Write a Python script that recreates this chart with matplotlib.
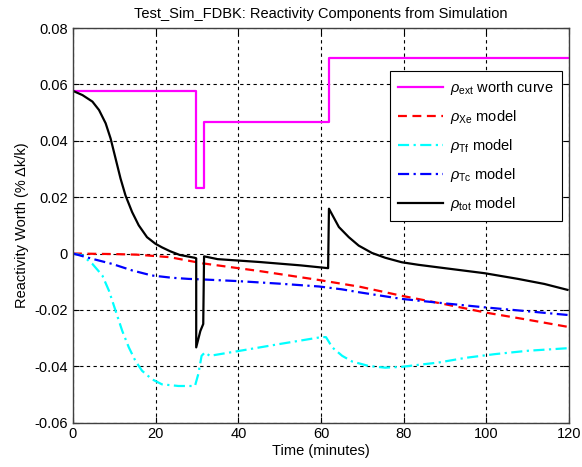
import matplotlib
matplotlib.use('Agg')
import matplotlib.pyplot as plt
import numpy as np

plt.rcParams['font.family'] = ['Liberation Sans', 'DejaVu Sans']
plt.rcParams['mathtext.fontset'] = 'custom'
plt.rcParams['mathtext.rm'] = 'Liberation Sans'
plt.rcParams['mathtext.it'] = 'Liberation Sans:italic'

# external reactivity (worth curve), step shaped
t_ext = [0, 29.7, 29.7, 31.6, 31.6, 61.9, 61.9, 120]
rho_ext = [0.0577, 0.0577, 0.0234, 0.0234, 0.0465, 0.0465, 0.0695, 0.0695]

# xenon
t_xe = [0, 10, 15.4, 23.4, 31.4, 45, 59.5, 69.4, 79.5, 90, 99.6, 110, 119.6]
rho_xe = [0, -0.0002, -0.0004, -0.0013, -0.0035, -0.0062, -0.0094, -0.0118,
          -0.0150, -0.0180, -0.0209, -0.0235, -0.0260]

# fuel temperature
t_tf = [0, 2.3, 4.7, 7.1, 8.7, 10.3, 11.9, 13.5, 15.1, 16.7, 19.1, 21.5,
        25.5, 29.5, 30.3, 31.1, 31.9, 33.1, 40, 50, 60.3, 61.2, 62.7, 65.1,
        67.5, 71.5, 75.5, 79.5, 83.5, 88.3, 95, 102, 110, 119.6]
rho_tf = [0, -0.0007, -0.0037, -0.0078, -0.0132, -0.0203, -0.0274, -0.0333,
          -0.0381, -0.0416, -0.0446, -0.0464, -0.0470, -0.0470, -0.0428,
          -0.0363, -0.0351, -0.0363, -0.0346, -0.0321, -0.0296, -0.0297,
          -0.0333, -0.0363, -0.0383, -0.0399, -0.0405, -0.0402, -0.0395,
          -0.0387, -0.0370, -0.0357, -0.0345, -0.0336]

# coolant temperature
t_tc = [0, 2, 4.7, 9.5, 14.3, 19.1, 23.9, 27.9, 31.4, 40, 50, 59.5, 65, 69.4,
        79.5, 90, 99.6, 110, 119.6]
rho_tc = [0, -0.0008, -0.0019, -0.0037, -0.0060, -0.0078, -0.0086, -0.0090,
          -0.0092, -0.0098, -0.0107, -0.0117, -0.0127, -0.0138, -0.0161,
          -0.0177, -0.0191, -0.0205, -0.0218]

# total
t_tot = [0, 2.3, 4.7, 6.3, 7.9, 9.1, 10.3, 11.5, 12.7, 14.3, 15.9, 17.9,
         19.9, 21.5, 23.5, 25.8, 29.4, 29.8, 29.8, 30.8, 31.5, 31.7, 35, 45,
         55, 61.7, 61.9, 64.3, 66.7, 69.1, 72.3, 75.5, 79.5, 83.5, 88.3,
         99.6, 107.6, 114, 119.6]
rho_tot = [0.0577, 0.0562, 0.0539, 0.0509, 0.0462, 0.0408, 0.0337, 0.0266,
           0.0206, 0.0147, 0.0100, 0.0058, 0.0035, 0.0022, 0.0008, -0.0005,
           -0.0015, -0.0017, -0.0333, -0.0275, -0.0250, -0.0010, -0.0020,
           -0.0030, -0.0042, -0.0052, 0.0159, 0.0094, 0.0058, 0.0028,
           0.0002, -0.0015, -0.0031, -0.0040, -0.0049, -0.0070, -0.0090,
           -0.0108, -0.0129]

fig = plt.figure(figsize=(5.82, 4.67), dpi=100)
ax = fig.add_axes([0.1254, 0.095, 0.8526, 0.845])

ax.plot(t_ext, rho_ext, color='#ff00ff', lw=1.6, label=r'$\rho_{\rm ext}$ worth curve')
ax.plot(t_xe, rho_xe, color='#ff0000', lw=1.6, ls=(0, (4, 2.5)), label=r'$\rho_{\rm Xe}$ model')
ax.plot(t_tf, rho_tf, color='#00ffff', lw=1.6, ls=(0, (5, 2, 1, 2)), label=r'$\rho_{\rm Tf}$ model')
ax.plot(t_tc, rho_tc, color='#0000ff', lw=1.6, ls=(0, (5, 2, 1, 2)), label=r'$\rho_{\rm Tc}$ model')
ax.plot(t_tot, rho_tot, color='black', lw=1.6, label=r'$\rho_{\rm tot}$ model')

ax.set_xlim(0, 120)
ax.set_ylim(-0.06, 0.08)
ax.set_xticks(np.arange(0, 121, 20))
ax.set_yticks(np.arange(-0.06, 0.081, 0.02))
ax.set_yticklabels(['-0.06', '-0.04', '-0.02', '0', '0.02', '0.04', '0.06', '0.08'])
ax.grid(True, color='black', ls=(0, (3, 3)), lw=0.8)
ax.tick_params(direction='in', top=True, right=True, labelsize=10.5, length=4)
for s in ax.spines.values():
    s.set_linewidth(1.0)
    s.set_color('#404040')

ax.set_title('Test_Sim_FDBK: Reactivity Components from Simulation', fontsize=10.5, pad=7)
ax.set_xlabel('Time (minutes)', fontsize=10.5, labelpad=2)
ax.set_ylabel('Reactivity Worth (% Δk/k)', fontsize=10.5, labelpad=4)

leg = ax.legend(loc='upper right', bbox_to_anchor=(0.985, 0.891), fontsize=10.5,
                fancybox=False, framealpha=1, edgecolor='black',
                handlelength=3.1, handletextpad=0.45, borderpad=0.55,
                labelspacing=0.75, borderaxespad=0)
leg.get_frame().set_linewidth(0.8)

fig.savefig('out.png', dpi=100)
